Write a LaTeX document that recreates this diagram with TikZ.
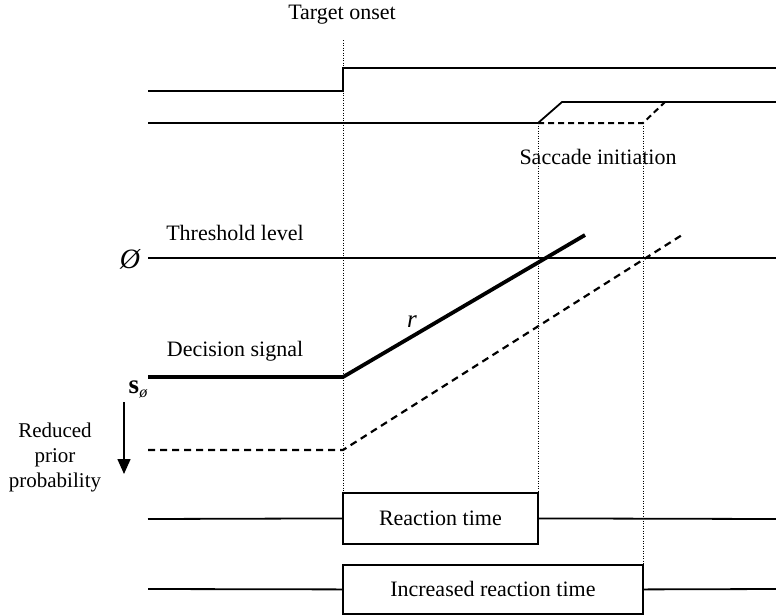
\documentclass[tikz,border=0pt]{standalone}
\usepackage{fontspec}
\setmainfont{Liberation Serif}
\usetikzlibrary{arrows.meta}
\begin{document}
\begin{tikzpicture}[x=1pt,y=-1pt,
  lbl/.style={font=\fontsize{22}{26}\selectfont, inner sep=0pt},
  sig/.style={line width=1.8pt},
  thick sig/.style={line width=3.8pt},
  dash sig/.style={line width=2.2pt, dash pattern=on 7pt off 5pt},
  guide/.style={line width=1pt, dash pattern=on 1pt off 1.5pt},
  rtbox/.style={draw, line width=1.8pt, inner sep=0pt, anchor=north west}]
\useasboundingbox (0,0) rectangle (776,614);
% labels
\node[lbl] (onset) at (342,15) {Target onset};
\node[lbl] (sacc) at (598,157) {Saccade initiation};
\node[lbl] (thrl) at (235,233) {Threshold level};
\node[lbl] (decl) at (235,351) {Decision signal};
\node[lbl, font=\fontsize{28}{30}\selectfont\itshape] (phi) at (130,259) {Ø};
\node[lbl, font=\fontsize{25}{27}\selectfont\itshape] (r) at (412,322) {r};
\node[lbl] (s) at (138,389) {{\fontsize{27}{30}\selectfont\textbf{s}}\raisebox{-4pt}{\fontsize{16}{18}\selectfont\itshape ø}};
\node[lbl, align=center, font=\fontsize{21}{25}\selectfont] (rpp) at (55,457) {Reduced\\prior\\probability};
% coordinates
\coordinate (g1t) at (343,40);
\coordinate (a0) at (148,91); \coordinate (a1) at (343,91); \coordinate (a2) at (343,68); \coordinate (a3) at (776,68);
\coordinate (b0) at (148,123); \coordinate (b1) at (538,123); \coordinate (b2) at (562,102); \coordinate (b3) at (776,102);
\coordinate (b4) at (643,123); \coordinate (b5) at (665,102);
\coordinate (t0) at (148,258); \coordinate (t1) at (776,258);
\coordinate (d0) at (148,377); \coordinate (d1) at (343,377); \coordinate (d2) at (585,235);
\coordinate (e0) at (148,450); \coordinate (e1) at (343,450); \coordinate (e2) at (682,235);
\coordinate (ar0) at (124,402); \coordinate (ar1) at (124,474);
% boxes
\node[rtbox, minimum width=195pt, minimum height=51pt] (rt) at (342,492) {};
\node[lbl] at (rt.center) {Reaction time};
\node[rtbox, minimum width=300pt, minimum height=49pt] (irt) at (342,564) {};
\node[lbl] at (irt.center) {Increased reaction time};
\coordinate (r0) at (148,519); \coordinate (r1) at (776,519);
\coordinate (i0) at (148,589); \coordinate (i1) at (776,589);
% guides
\draw[guide] (g1t) -- (rt.north west -| g1t);
\draw[guide] (b1) -- (b1 |- rt.north);
\draw[guide] (b4) -- (b4 |- irt.north);
% signals
\draw[sig] (a0) -- (a1) -- (a2) -- (a3);
\draw[sig] (b0) -- (b1) -- (b2) -- (b3);
\draw[line width=2pt, dash pattern=on 6pt off 4pt] (b1) -- (b4) -- (b5);
\draw[sig] (t0) -- (t1);
\draw[thick sig] (d0) -- (d1) -- (d2);
\draw[dash sig] (e0) -- (e1) -- (e2);
\draw[line width=1.5pt, -{Triangle[length=15pt,width=13pt]}] (ar0) -- (ar1);
\draw[sig] (r0) -- (rt.west); \draw[sig] (rt.east) -- (r1);
\draw[sig] (i0) -- (irt.west); \draw[sig] (irt.east) -- (i1);
\end{tikzpicture}
\end{document}
